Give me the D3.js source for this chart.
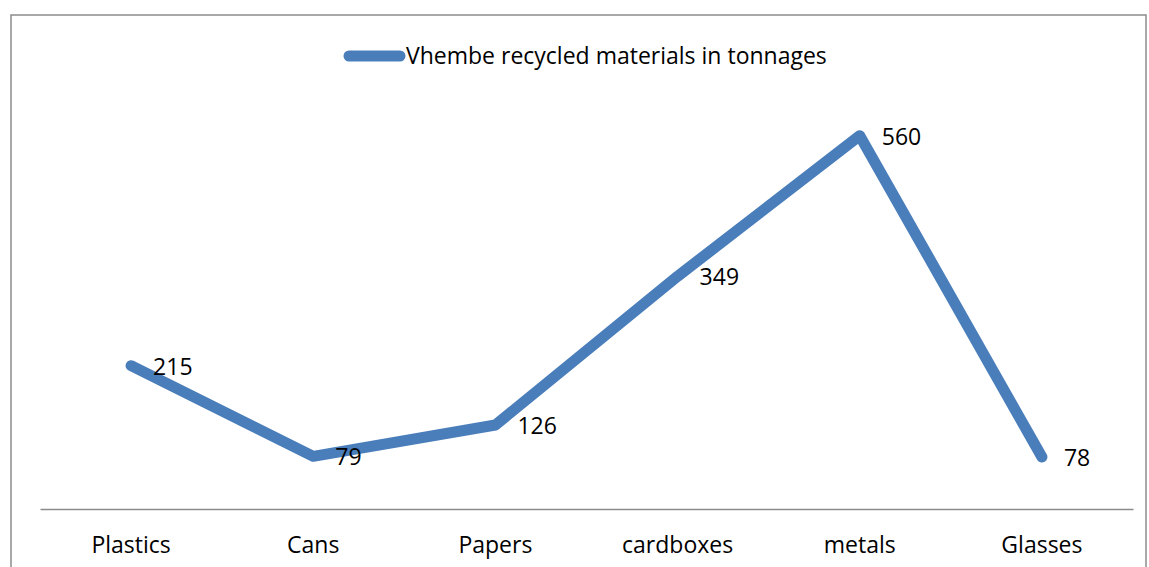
<!DOCTYPE html>
<html lang="en">
<head>
    <meta charset="UTF-8">
    <title>Vhembe recycled materials</title>
    <script src="https://d3js.org/d3.v7.min.js"></script>
    <style>
        body{
            margin: 0;
            background: white;
        }
        text{
            font-family: "Open Sans", sans-serif;
            fill: black;
        }
    </style>
</head>
<body>

<script>
    const categories = ["Plastics", "Cans", "Papers", "cardboxes", "metals", "Glasses"]
    const tonnages = [215, 79, 126, 349, 560, 78]
    const seriesName = "Vhembe recycled materials in tonnages"

    const W = 1149, H = 567
    const blue = "#4a7ebb"
    const fs = "23px"

    const svg = d3.select("body").append("svg")
        .attr("width", W)
        .attr("height", H)

    // chart frame
    svg.append("rect")
        .attr("x", 11).attr("y", 15)
        .attr("width", 1135).attr("height", 560)
        .attr("fill", "none")
        .attr("stroke", "#8c8c8c")
        .attr("stroke-width", 1.5)

    const x = d3.scaleBand()
        .domain(categories)
        .range([40, 1133])

    const y = d3.scaleLinear()
        .domain([0, 600])
        .range([509, 109])

    // category axis
    const xAxis = svg.append("g")
        .attr("transform", "translate(0," + y(0) + ")")
        .call(d3.axisBottom(x).tickSize(0).tickPadding(28))
    xAxis.select(".domain").attr("stroke", "#8c8c8c").attr("stroke-width", 1.5)
    xAxis.selectAll("text")
        .attr("font-size", fs)
        .style("font-family", "'Open Sans', sans-serif")
        .attr("fill", "black")

    const line = d3.line()
        .x((d, i) => x(categories[i]) + x.bandwidth() / 2)
        .y(d => y(d))

    svg.append("path")
        .datum(tonnages)
        .attr("d", line)
        .attr("fill", "none")
        .attr("stroke", blue)
        .attr("stroke-width", 11)
        .attr("stroke-linecap", "round")
        .attr("stroke-linejoin", "round")

    // data labels to the right of each point
    svg.selectAll(".lbl")
        .data(tonnages)
        .enter()
        .append("text")
        .attr("class", "lbl")
        .attr("x", (d, i) => x(categories[i]) + x.bandwidth() / 2 + 22)
        .attr("y", d => y(d) + 9)
        .attr("font-size", fs)
        .text(d => d)

    // legend
    svg.append("line")
        .attr("x1", 349).attr("x2", 400)
        .attr("y1", 56).attr("y2", 56)
        .attr("stroke", blue)
        .attr("stroke-width", 11)
        .attr("stroke-linecap", "round")

    svg.append("text")
        .attr("x", 406)
        .attr("y", 64)
        .attr("font-size", fs)
        .text(seriesName)
</script>
</body>
</html>
